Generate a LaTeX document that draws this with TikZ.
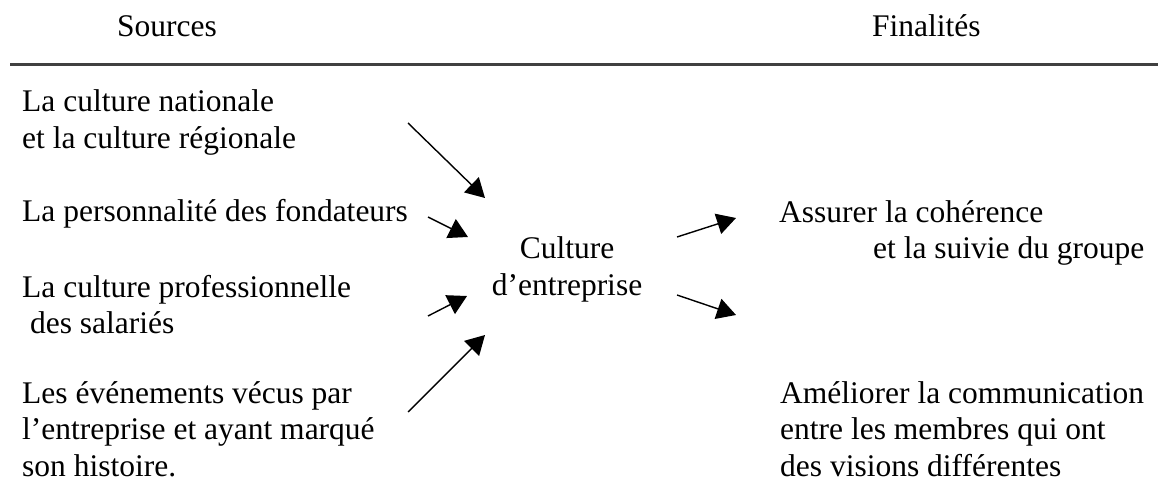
\documentclass[tikz,border=0pt]{standalone}
\usepackage{fontspec}
\setmainfont{Liberation Serif}
\usetikzlibrary{arrows.meta}
\begin{document}
\begin{tikzpicture}[x=1pt,y=-1pt,
  txt/.style={inner sep=0pt,anchor=base west,align=left,
    font=\fontsize{31.5}{36.5}\selectfont},
  arr/.style={line width=1.4pt,-{Triangle[length=19pt,width=21pt]}}]
\useasboundingbox (0,0) rectangle (1158,481);
% header
\node[txt] (src) at (117,37) {Sources};
\node[txt] (fin) at (872,37) {Finalités};
\coordinate (hl) at (10,65);
\coordinate (hr) at (1158,65);
\draw[line width=3pt,black!75] (hl) -- (hr);
% sources (base = baseline of last line)
\node[txt] (s1) at (22,148.5) {La culture nationale\\et la culture régionale};
\node[txt] (s2) at (22,221) {La personnalité des fondateurs};
\node[txt] (s3) at (22,333.5) {La culture professionnelle\\\ des salariés};
\node[txt] (s4) at (22,476) {Les événements vécus par\\l’entreprise et ayant marqué\\son histoire.};
% centre
\node[inner sep=0pt,anchor=base,align=center,font=\fontsize{31.5}{37}\selectfont] (c) at (567,295) {Culture\\d’entreprise};
% finalites
\node[txt] (f1a) at (779,222) {Assurer la cohérence};
\node[txt] (f1b) at (873,258) {et la suivie du groupe};
\node[txt] (f2) at (780,476) {Améliorer la communication\\entre les membres qui ont\\des visions différentes};
% arrows
\coordinate (a1s) at (408,123); \coordinate (a1e) at (485,198);
\coordinate (a2s) at (428,217); \coordinate (a2e) at (468,237);
\coordinate (a3s) at (428,316); \coordinate (a3e) at (467,296);
\coordinate (a4s) at (408,412); \coordinate (a4e) at (485,335);
\coordinate (b1s) at (677,237); \coordinate (b1e) at (736,218);
\coordinate (b2s) at (677,295); \coordinate (b2e) at (736,315);
\draw[arr] (a1s) -- (a1e);
\draw[arr] (a2s) -- (a2e);
\draw[arr] (a3s) -- (a3e);
\draw[arr] (a4s) -- (a4e);
\draw[arr] (b1s) -- (b1e);
\draw[arr] (b2s) -- (b2e);
\end{tikzpicture}
\end{document}
